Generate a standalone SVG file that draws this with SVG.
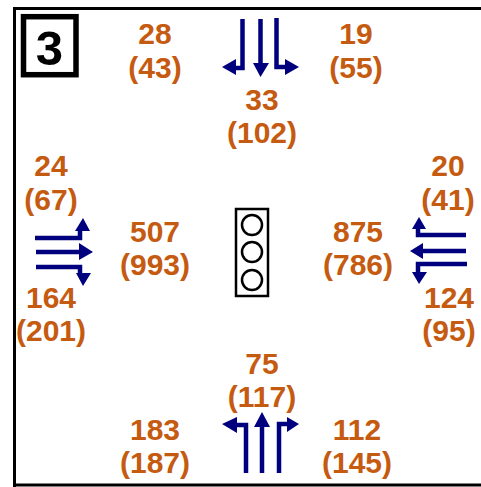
<svg xmlns="http://www.w3.org/2000/svg" width="481" height="487" viewBox="0 0 481 487">
<style>
text{font-family:"Liberation Sans",Arial,sans-serif;font-weight:bold;font-size:30px;fill:#c55a11;text-anchor:middle}
.a{fill:none;stroke:#00007f;stroke-width:4.500}
.h{fill:#00007f}
.k{fill:none;stroke:#000}
</style>
<rect width="481" height="487" fill="#fff"/>
<g id="frame"><path class="k" stroke-width="3" d="M481 8.500H14.500V487M14.500 485H481"/></g>
<g id="badge"><rect class="k" x="23.500" y="16.700" width="52.500" height="58" stroke-width="5.500"/><text x="49.500" y="64.500" style="font-size:49px;fill:#000">3</text></g>
<g id="signal"><rect class="k" x="236" y="209" width="32" height="87" stroke-width="2.500"/><circle class="k" cx="252" cy="225" r="10" stroke-width="2.500"/><circle class="k" cx="252" cy="252" r="10" stroke-width="2.500"/><circle class="k" cx="252" cy="280" r="10" stroke-width="2.500"/></g>
<g id="connectors">
<path class="a" d="M242.500 19V68H233M260.500 19V66M276.500 18V67H286"/>
<path class="h" d="M222 67L236 59V75ZM260.500 77L253 63H269ZM299 67L285 59V75Z"/>
<path class="a" d="M35 238H80V230M36 252H82M36 267H80V275"/>
<path class="h" d="M83 218L75 231H90ZM93 252L79 243V260ZM83 286L76 273H91Z"/>
<path class="a" d="M466 235H418V228M466 251H420M467 264H418V273"/>
<path class="h" d="M419 217L412 229H426ZM410 251L423 243V259ZM419 284L412 272H427Z"/>
<path class="a" d="M246 473V425H236M262 473V426M279 473V424H288"/>
<path class="h" d="M222 424L237 417V433ZM262 412L254 427H270ZM299 424L287 417V432Z"/>
</g>
<g id="label-nw"><text x="155" y="44">28</text><text x="155" y="77.500">(43)</text></g>
<g id="label-n"><text x="262" y="110">33</text><text x="262" y="143">(102)</text></g>
<g id="label-ne"><text x="356" y="44">19</text><text x="356" y="77.500">(55)</text></g>
<g id="label-wt"><text x="51" y="176">24</text><text x="51" y="209.500">(67)</text></g>
<g id="label-wb"><text x="51" y="308">164</text><text x="51" y="341">(201)</text></g>
<g id="label-wc"><text x="155" y="242">507</text><text x="155" y="275">(993)</text></g>
<g id="label-ec"><text x="358" y="242">875</text><text x="358" y="275">(786)</text></g>
<g id="label-et"><text x="448" y="176">20</text><text x="448" y="209.500">(41)</text></g>
<g id="label-eb"><text x="449" y="308">124</text><text x="449" y="341">(95)</text></g>
<g id="label-s"><text x="262" y="374">75</text><text x="262" y="407">(117)</text></g>
<g id="label-sw"><text x="155" y="440">183</text><text x="155" y="473">(187)</text></g>
<g id="label-se"><text x="357" y="440">112</text><text x="357" y="473">(145)</text></g>
</svg>
